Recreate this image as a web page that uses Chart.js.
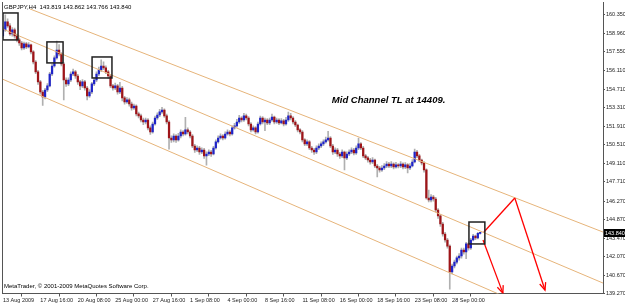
<!DOCTYPE html>
<html>
<head>
<meta charset="utf-8">
<title>GBPJPY,H4</title>
<script src="https://cdn.jsdelivr.net/npm/chart.js@4.4.1/dist/chart.umd.min.js"></script>
<style>
  html, body { margin: 0; padding: 0; background: #fff; }
  #wrap { width: 625px; height: 307px; position: relative; }
</style>
</head>
<body>
<div id="wrap"><canvas id="chart"></canvas></div>
<script>
// Symbol shown in the top left corner
const symbol = 'GBPJPY';
const timeframe = 'H4';

// H4 candles, one value per bar
const opens = [
  158.76,159.22,159.82,159.52,158.91,159.22,158.76,158.46,158.23,157.85,
  158.16,157.93,158.08,157.55,156.79,156.04,155.28,154.52,154.14,154.67,
  154.98,155.88,156.49,157.10,157.70,157.40,156.64,155.43,155.13,155.43,
  155.88,156.04,155.73,155.28,154.98,155.28,154.82,154.22,154.52,155.13,
  155.43,155.88,156.19,156.49,156.34,156.04,155.73,154.98,154.82,154.98,
  154.52,154.82,154.07,153.77,153.92,153.61,153.31,153.46,152.86,152.71,
  152.40,152.25,152.40,151.80,151.49,152.10,152.55,152.78,153.01,153.16,
  152.71,152.25,151.04,150.89,151.19,150.89,151.19,151.49,151.34,151.65,
  151.49,151.19,150.43,150.13,150.28,149.98,150.13,149.68,149.83,149.98,
  149.83,150.28,150.74,151.04,151.19,151.04,151.34,151.49,151.34,151.80,
  151.95,152.25,152.55,152.40,152.71,152.55,152.10,151.65,151.80,151.49,
  152.10,152.55,152.25,152.40,152.18,152.40,152.63,152.25,152.40,152.18,
  152.33,152.10,152.40,152.71,152.55,152.25,152.02,151.65,151.49,150.89,
  150.59,150.74,150.28,150.13,149.98,150.28,150.43,150.59,150.74,150.89,
  151.04,150.43,149.98,150.13,149.83,149.68,149.98,149.53,149.83,149.98,
  150.13,149.90,150.28,150.59,150.28,149.68,149.53,149.37,149.22,149.37,
  148.92,148.77,148.62,148.77,148.92,149.07,148.92,149.07,148.84,149.00,
  148.92,149.07,148.84,149.00,148.77,148.92,149.22,149.98,149.68,149.37,
  149.15,148.62,146.50,146.35,146.57,146.42,145.59,145.14,144.53,143.77,
  143.32,142.86,140.90,141.35,141.65,141.96,142.11,142.56,142.41,143.02,
  142.71,143.32,143.62,143.47,143.819
];
const highs = [
  159.45,160.35,160.05,159.70,159.40,159.35,158.90,158.60,158.35,158.30,
  158.28,158.25,158.15,157.65,156.90,156.15,155.40,154.65,154.80,155.15,
  156.00,156.65,157.25,158.38,158.10,157.50,156.75,155.60,155.60,156.05,
  156.25,156.15,155.85,155.40,155.45,155.40,154.95,154.70,155.25,155.60,
  156.05,156.40,156.95,156.80,156.50,156.15,155.85,155.10,155.20,155.10,
  155.25,154.95,154.20,154.10,154.05,153.75,153.60,153.55,153.00,152.85,
  152.55,152.55,152.50,151.95,152.25,152.70,152.95,153.20,153.35,153.25,
  152.85,152.35,151.20,151.35,151.30,151.40,151.65,151.60,152.60,151.80,
  151.60,151.30,150.55,150.45,150.40,150.30,150.25,150.00,150.15,150.10,
  150.40,150.90,151.20,151.35,151.30,151.50,151.65,151.60,151.95,152.15,
  152.45,152.75,152.65,152.90,152.85,152.65,152.20,151.95,151.90,152.25,
  152.70,152.65,152.55,152.50,152.55,152.85,152.70,152.55,152.50,152.50,
  152.45,152.60,153.00,152.90,152.65,152.35,152.10,151.75,151.60,151.00,
  150.90,150.85,150.40,150.25,150.45,150.60,150.75,150.90,151.10,151.55,
  151.15,150.55,150.30,150.25,149.95,150.15,150.05,150.00,150.15,150.30,
  150.25,150.45,151.04,150.70,150.40,149.80,149.65,149.50,149.55,149.45,
  149.05,148.90,148.95,149.10,149.25,149.20,149.25,149.15,149.20,149.10,
  149.25,149.15,149.18,149.10,149.10,149.40,150.20,150.10,149.80,149.45,
  149.25,148.70,147.10,146.75,146.70,146.55,145.70,145.25,144.65,143.90,
  143.45,142.95,141.50,141.80,142.10,142.30,142.70,142.70,143.15,143.10,
  143.45,143.75,143.70,143.90,143.862
];
const lows = [
  158.60,159.10,159.40,158.80,158.75,158.60,158.30,158.05,157.70,157.75,
  157.80,157.85,157.40,156.65,155.90,155.10,154.35,153.50,154.00,154.55,
  154.90,155.75,156.40,157.00,157.25,156.50,153.92,154.95,155.00,155.30,
  155.75,155.55,155.10,154.70,154.85,154.65,153.92,154.10,154.40,155.00,
  155.30,155.75,156.05,156.20,155.90,155.55,154.85,154.65,154.70,154.35,
  154.40,153.85,153.60,153.65,153.45,153.15,153.20,152.70,152.55,152.25,
  152.05,152.10,151.65,151.30,151.40,152.00,152.45,152.65,152.90,152.60,
  152.10,150.20,150.70,150.75,150.70,150.80,151.05,151.20,151.25,151.35,
  151.05,150.30,149.95,150.00,149.80,149.85,149.50,148.98,149.70,149.65,
  149.75,150.20,150.65,150.95,150.90,150.95,151.25,151.20,151.25,151.70,
  151.85,152.15,152.25,152.30,152.40,151.95,151.50,151.55,151.35,151.40,
  152.00,152.10,151.60,152.05,152.05,152.30,152.10,152.15,152.05,152.10,
  151.95,152.00,152.30,152.40,152.10,151.90,151.50,151.35,150.75,150.45,
  150.45,150.15,149.95,149.80,149.85,150.15,150.30,150.45,150.65,150.80,
  150.30,149.80,149.85,149.65,149.50,149.55,148.62,149.40,149.70,149.85,
  149.75,149.80,150.15,150.15,149.55,149.40,149.20,149.05,149.10,148.80,
  148.10,148.45,148.50,148.65,148.80,148.80,148.80,148.70,148.75,148.78,
  148.80,148.70,148.72,148.40,148.65,148.85,149.15,149.55,149.25,149.00,
  148.45,146.40,146.20,146.20,146.25,145.45,144.95,144.35,143.60,143.15,
  142.70,139.60,140.75,141.20,141.50,141.80,141.95,142.25,141.90,142.55,
  142.60,143.25,143.35,143.40,143.766
];
const closes = [
  159.22,159.82,159.52,158.91,159.22,158.76,158.46,158.23,157.85,158.16,
  157.93,158.08,157.55,156.79,156.04,155.28,154.52,154.14,154.67,154.98,
  155.88,156.49,157.10,157.70,157.40,156.64,155.43,155.13,155.43,155.88,
  156.04,155.73,155.28,154.98,155.28,154.82,154.22,154.52,155.13,155.43,
  155.88,156.19,156.49,156.34,156.04,155.73,154.98,154.82,154.98,154.52,
  154.82,154.07,153.77,153.92,153.61,153.31,153.46,152.86,152.71,152.40,
  152.25,152.40,151.80,151.49,152.10,152.55,152.78,153.01,153.16,152.71,
  152.25,151.04,150.89,151.19,150.89,151.19,151.49,151.34,151.65,151.49,
  151.19,150.43,150.13,150.28,149.98,150.13,149.68,149.83,149.98,149.83,
  150.28,150.74,151.04,151.19,151.04,151.34,151.49,151.34,151.80,151.95,
  152.25,152.55,152.40,152.71,152.55,152.10,151.65,151.80,151.49,152.10,
  152.55,152.25,152.40,152.18,152.40,152.63,152.25,152.40,152.18,152.33,
  152.10,152.40,152.71,152.55,152.25,152.02,151.65,151.49,150.89,150.59,
  150.74,150.28,150.13,149.98,150.28,150.43,150.59,150.74,150.89,151.04,
  150.43,149.98,150.13,149.83,149.68,149.98,149.53,149.83,149.98,150.13,
  149.90,150.28,150.59,150.28,149.68,149.53,149.37,149.22,149.37,148.92,
  148.77,148.62,148.77,148.92,149.07,148.92,149.07,148.84,149.00,148.92,
  149.07,148.84,149.00,148.77,148.92,149.22,149.98,149.68,149.37,149.15,
  148.62,146.50,146.35,146.57,146.42,145.59,145.14,144.53,143.77,143.32,
  142.86,140.90,141.35,141.65,141.96,142.11,142.56,142.41,143.02,142.71,
  143.32,143.62,143.47,143.819,143.840
];

// Time axis: a label every 16 bars
const timeTickBars = [0, 16, 32, 48, 64, 80, 96, 112, 128, 144, 160, 176, 192];
const timeLabels = ['13 Aug 2009', '17 Aug 16:00', '20 Aug 08:00', '25 Aug 00:00', '27 Aug 16:00',
  '1 Sep 08:00', '4 Sep 00:00', '8 Sep 16:00', '11 Sep 08:00', '16 Sep 00:00',
  '18 Sep 16:00', '23 Sep 08:00', '28 Sep 00:00'];

// Price axis labels
const priceTicks = [160.35, 158.96, 157.55, 156.11, 154.71, 153.31, 151.91, 150.51,
  149.11, 147.71, 146.27, 144.87, 143.47, 142.07, 140.67, 139.27];

// Channel trend lines (bar index, price)
const topLineX = [11.6, 256.5];
const topLineY = [160.80, 143.92];
const midLineX = [-0.4, 256.5];
const midLineY = [159.31, 140.06];
const lowLineX = [-0.4, 218.8];
const lowLineY = [155.51, 138.70];

// Rectangles drawn around the swing highs (bar index from/to, price top/bottom)
const boxStart = [-0.4, 18.8, 38.1, 199.2];
const boxEnd = [6.45, 25.7, 46.6, 206.0];
const boxTop = [160.50, 158.31, 157.17, 144.68];
const boxBottom = [158.46, 156.72, 155.58, 143.02];

// Red projection arrows
const arrowFromX = [205.6, 218.8, 205.2];
const arrowFromY = [143.92, 146.50, 143.32];
const arrowToX = [218.8, 231.7, 213.7];
const arrowToY = [146.50, 139.53, 139.30];
const arrowHead = [false, true, true];

// Text note on the chart
const noteText = 'Mid Channel TL at 14409.';
const noteX = 140.6;
const noteY = 153.92;

const copyright = 'MetaTrader, \u00A9 2001-2009 MetaQuotes Software Corp.';

// Colours
const BULL = '#1f24c8';
const BEAR = '#9e1418';
const WICK = '#b0b0b0';
const TREND = '#e6b47a';
const AXIS = '#555555';
const FONT = 'Liberation Sans';

// Build the candle datasets from the arrays
const last = closes.length - 1;
const wickData = closes.map((c, i) => ({ x: i, y: [lows[i], highs[i]] }));
const bodyData = closes.map((c, i) => ({ x: i, y: [opens[i], c] }));
const bodyColors = closes.map((c, i) => (c >= opens[i] ? BULL : BEAR));

// A two point line for a trend line or an arrow shaft
function segment(xs, ys, color, width, order) {
  return {
    type: 'line',
    data: [{ x: xs[0], y: ys[0] }, { x: xs[1], y: ys[1] }],
    borderColor: color,
    borderWidth: width,
    pointRadius: 0,
    fill: false,
    order: order
  };
}

const datasets = [
  { type: 'bar', data: wickData, backgroundColor: WICK, barThickness: 1, grouped: false, order: 4 },
  { type: 'bar', data: bodyData, backgroundColor: bodyColors, barThickness: 1.6, grouped: false, minBarLength: 1, order: 3 },
  segment(topLineX, topLineY, TREND, 1, 2),
  segment(midLineX, midLineY, TREND, 1, 2),
  segment(lowLineX, lowLineY, TREND, 1, 2)
];
arrowFromX.forEach((x0, k) => {
  datasets.push(segment([x0, arrowToX[k]], [arrowFromY[k], arrowToY[k]], '#ff0000', 1.3, 1));
});

// Boxes, arrow heads, texts and the price tag
const overlays = {
  id: 'overlays',
  afterDatasetsDraw(chart) {
    const { ctx, chartArea, scales } = chart;
    const xs = scales.x;
    const ys = scales.y;
    ctx.save();
    ctx.beginPath();
    ctx.rect(chartArea.left, chartArea.top, chartArea.width, chartArea.height);
    ctx.clip();

    // rectangles
    ctx.strokeStyle = '#202020';
    ctx.lineWidth = 1.5;
    boxStart.forEach((b, k) => {
      const x0 = Math.max(xs.getPixelForValue(b), chartArea.left + 1);
      const x1 = xs.getPixelForValue(boxEnd[k]);
      const y0 = ys.getPixelForValue(boxTop[k]);
      const y1 = ys.getPixelForValue(boxBottom[k]);
      ctx.strokeRect(x0, y0, x1 - x0, y1 - y0);
    });

    // arrow heads
    ctx.strokeStyle = '#ff0000';
    ctx.lineWidth = 1.3;
    arrowToX.forEach((tx, k) => {
      if (!arrowHead[k]) return;
      const px = xs.getPixelForValue(tx);
      const py = ys.getPixelForValue(arrowToY[k]);
      const fx = xs.getPixelForValue(arrowFromX[k]);
      const fy = ys.getPixelForValue(arrowFromY[k]);
      const ang = Math.atan2(py - fy, px - fx);
      ctx.beginPath();
      ctx.moveTo(px - 8 * Math.cos(ang - 0.4), py - 8 * Math.sin(ang - 0.4));
      ctx.lineTo(px, py);
      ctx.lineTo(px - 8 * Math.cos(ang + 0.4), py - 8 * Math.sin(ang + 0.4));
      ctx.stroke();
    });

    // note text
    ctx.fillStyle = '#000';
    ctx.font = 'italic bold 9.5px "' + FONT + '"';
    ctx.textBaseline = 'middle';
    ctx.textAlign = 'left';
    ctx.fillText(noteText, xs.getPixelForValue(noteX), ys.getPixelForValue(noteY));
    ctx.restore();

    // left frame line
    ctx.save();
    ctx.strokeStyle = AXIS;
    ctx.lineWidth = 1;
    ctx.beginPath();
    ctx.moveTo(chartArea.left + 0.5, chartArea.top);
    ctx.lineTo(chartArea.left + 0.5, chartArea.bottom);
    ctx.stroke();

    // header with the last bar's OHLC
    const ohlc = [opens, highs, lows, closes].map(a => a[last].toFixed(3)).join(' ');
    ctx.fillStyle = '#000';
    ctx.font = '6px "' + FONT + '"';
    ctx.textBaseline = 'middle';
    ctx.fillText(symbol + ',' + timeframe + '  ' + ohlc, 4, 7);
    ctx.fillText(copyright, 4, 286);
    ctx.restore();
  },
  afterDraw(chart) {
    // black price tag for the last close on the price axis
    const { ctx, chartArea, scales } = chart;
    const py = Math.round(scales.y.getPixelForValue(closes[last]));
    ctx.save();
    ctx.fillStyle = '#000';
    ctx.fillRect(chartArea.right + 1, py - 4, 22, 8);
    ctx.fillStyle = '#fff';
    ctx.font = '5.5px "' + FONT + '"';
    ctx.textBaseline = 'middle';
    ctx.fillText(closes[last].toFixed(3), chartArea.right + 2, py + 0.5);
    ctx.restore();
  }
};

// Create the chart
const chart = new Chart(document.getElementById('chart'), {
  type: 'bar',
  data: { datasets },
  options: {
    responsive: true,
    maintainAspectRatio: false,
    animation: false,
    layout: { padding: { left: 2, top: 2, right: 0, bottom: 0 } },
    plugins: { legend: { display: false }, tooltip: { enabled: false } },
    scales: {
      x: {
        type: 'linear',
        min: -0.4,
        max: 256.5,
        offset: false,
        border: { display: true, color: AXIS },
        grid: { drawOnChartArea: false, drawTicks: true, tickLength: 3, color: AXIS },
        afterBuildTicks: s => { s.ticks = timeTickBars.map(v => ({ value: v })); },
        afterFit: s => { s.height = 13.5; s.paddingLeft = 0; s.paddingRight = 0; },
        ticks: {
          autoSkip: false,
          maxRotation: 0,
          align: 'start',
          padding: 1,
          color: '#222',
          font: { family: FONT, size: 5.5 },
          callback: (v, i) => timeLabels[i]
        }
      },
      y: {
        type: 'linear',
        position: 'right',
        min: 139.27,
        max: 161.33,
        border: { display: true, color: AXIS },
        grid: { drawOnChartArea: false, drawTicks: true, tickLength: 2, color: AXIS },
        afterBuildTicks: s => { s.ticks = priceTicks.map(v => ({ value: v })); },
        afterFit: s => { s.width = 22; s.paddingTop = 0; s.paddingBottom = 0; },
        ticks: {
          autoSkip: false,
          padding: 1,
          color: '#222',
          font: { family: FONT, size: 5.5 },
          callback: v => v.toFixed(3)
        }
      }
    }
  },
  plugins: [overlays]
});
</script>
</body>
</html>
